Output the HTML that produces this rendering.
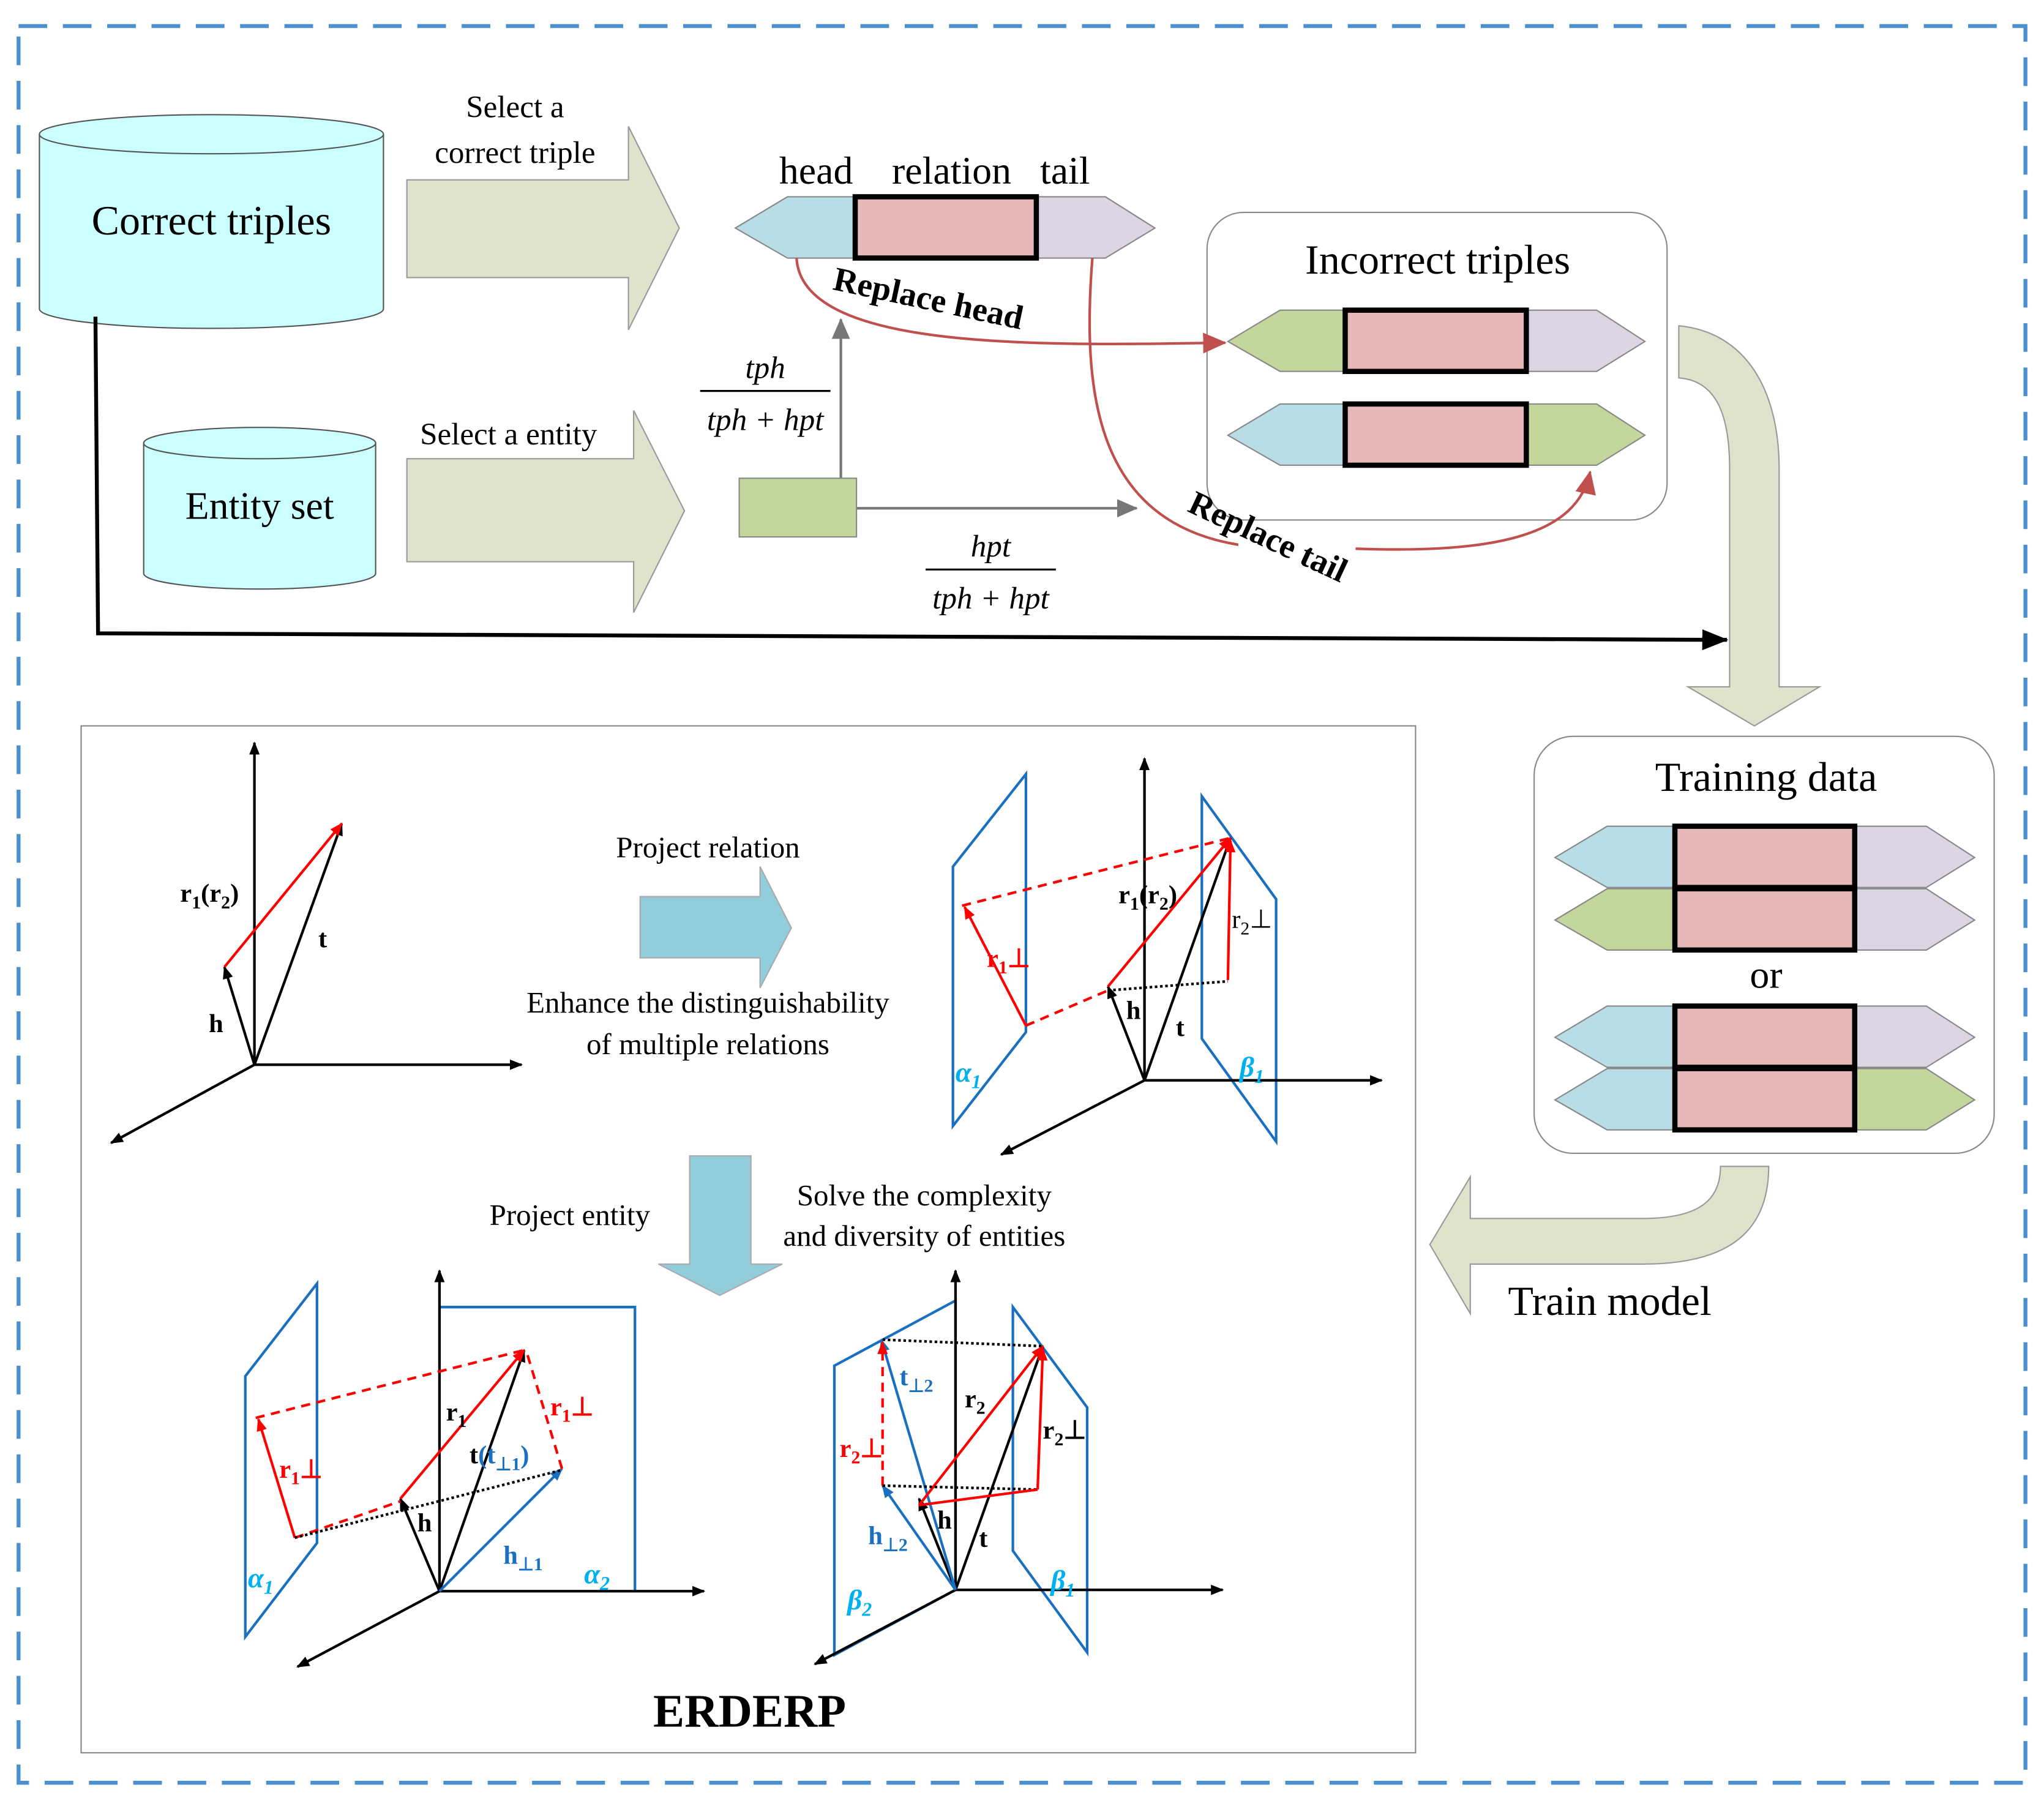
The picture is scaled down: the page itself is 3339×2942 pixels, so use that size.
<!DOCTYPE html>
<html><head><meta charset="utf-8"><style>
html,body{margin:0;padding:0;background:#fff}
svg{display:block}
text{font-family:"Liberation Serif",serif}
</style></head><body>
<svg width="3339" height="2942" viewBox="0 0 1568 1382" xmlns="http://www.w3.org/2000/svg">
<defs>
<marker id="ak" markerWidth="10" markerHeight="10" refX="9" refY="5" orient="auto" markerUnits="userSpaceOnUse"><path d="M0,1 L10,5 L0,9 z" fill="#000"/></marker>
<marker id="ar" markerWidth="10" markerHeight="10" refX="9" refY="5" orient="auto" markerUnits="userSpaceOnUse"><path d="M0,1 L10,5 L0,9 z" fill="#f00"/></marker>
<marker id="ab" markerWidth="10" markerHeight="10" refX="9" refY="5" orient="auto" markerUnits="userSpaceOnUse"><path d="M0,1 L10,5 L0,9 z" fill="#1a70c0"/></marker>
<marker id="ag" markerWidth="16" markerHeight="14" refX="15" refY="7" orient="auto" markerUnits="userSpaceOnUse"><path d="M0,0 L16,7 L0,14 z" fill="#777"/></marker>
<marker id="abig" markerWidth="20" markerHeight="16" refX="19" refY="8" orient="auto" markerUnits="userSpaceOnUse"><path d="M0,0 L20,8 L0,16 z" fill="#000"/></marker>
<marker id="abr" markerWidth="18" markerHeight="16" refX="17" refY="8" orient="auto" markerUnits="userSpaceOnUse"><path d="M0,0 L18,8 L0,16 z" fill="#c0504d"/></marker>
</defs>
<rect x="14" y="20" width="1540" height="1348" fill="none" stroke="#4a90d0" stroke-width="3" stroke-dasharray="22,12"/>

<!-- Correct triples cylinder -->
<path d="M30,103 L30,237 A132,15 0 0 0 294,237 L294,103" fill="#ccffff" stroke="#555" stroke-width="1"/>
<ellipse cx="162" cy="103" rx="132" ry="15" fill="#ccffff" stroke="#555"/>
<text x="162" y="180" font-size="32" text-anchor="middle">Correct triples</text>
<!-- Entity set -->
<path d="M110,340 L110,440 A89,12 0 0 0 288,440 L288,340" fill="#ccffff" stroke="#555"/>
<ellipse cx="199" cy="340" rx="89" ry="12" fill="#ccffff" stroke="#555"/>
<text x="199" y="398" font-size="30" text-anchor="middle">Entity set</text>

<!-- big arrows -->
<path d="M312,138 L482,138 L482,97 L521,175 L482,253 L482,213 L312,213 Z" fill="#dfe3cc" stroke="#999"/>
<path d="M312,352 L486,352 L486,315 L525,392 L486,470 L486,431 L312,431 Z" fill="#dfe3cc" stroke="#999"/>
<text x="395" y="90" font-size="24" text-anchor="middle">Select a</text>
<text x="395" y="125" font-size="24" text-anchor="middle">correct triple</text>
<text x="390" y="341" font-size="24" text-anchor="middle">Select a entity</text>

<!-- top triple -->
<text x="626" y="141" font-size="30" text-anchor="middle">head</text>
<text x="730" y="141" font-size="30" text-anchor="middle">relation</text>
<text x="817" y="141" font-size="30" text-anchor="middle">tail</text>
<path d="M564,175 L604,151 L656,151 L656,198 L604,198 Z" fill="#b8dde6" stroke="#888"/>
<path d="M795,151 L848,151 L886,175 L848,198 L795,198 Z" fill="#dcd6e4" stroke="#888"/>
<rect x="656" y="151" width="139" height="47" fill="#e6b8b7" stroke="#000" stroke-width="4"/>

<!-- Incorrect triples -->
<rect x="926" y="163" width="353" height="236" rx="28" fill="#fff" stroke="#888"/>
<text x="1103" y="210" font-size="32" text-anchor="middle">Incorrect triples</text>
<path d="M942,262 L982,238 L1032,238 L1032,285 L982,285 Z" fill="#c3d69b" stroke="#888"/>
<path d="M1171,238 L1225,238 L1262,262 L1225,285 L1171,285 Z" fill="#dcd6e4" stroke="#888"/>
<rect x="1032" y="238" width="139" height="47" fill="#e6b8b7" stroke="#000" stroke-width="4"/>
<path d="M942,334 L982,310 L1032,310 L1032,357 L982,357 Z" fill="#b8dde6" stroke="#888"/>
<path d="M1171,310 L1225,310 L1262,334 L1225,357 L1171,357 Z" fill="#c3d69b" stroke="#888"/>
<rect x="1032" y="310" width="139" height="47" fill="#e6b8b7" stroke="#000" stroke-width="4"/>

<!-- entity rect + gray arrows -->
<line x1="645" y1="367" x2="645" y2="245" stroke="#777" stroke-width="2" marker-end="url(#ag)"/>
<line x1="657" y1="390" x2="872" y2="390" stroke="#777" stroke-width="2" marker-end="url(#ag)"/>
<rect x="567" y="367" width="90" height="45" fill="#c3d69b" stroke="#888"/>
<text x="587" y="290" font-size="24" font-style="italic" text-anchor="middle">tph</text>
<line x1="537" y1="300" x2="637" y2="300" stroke="#000" stroke-width="1.5"/>
<text x="587" y="330" font-size="24" font-style="italic" text-anchor="middle">tph + hpt</text>
<text x="760" y="427" font-size="24" font-style="italic" text-anchor="middle">hpt</text>
<line x1="710" y1="437" x2="810" y2="437" stroke="#000" stroke-width="1.5"/>
<text x="760" y="467" font-size="24" font-style="italic" text-anchor="middle">tph + hpt</text>

<!-- red curves -->
<path d="M611,198 C615,270 800,265 940,263" fill="none" stroke="#c0504d" stroke-width="2" marker-end="url(#abr)"/>
<text x="638" y="222" font-size="26" font-weight="bold" transform="rotate(12 638 222)">Replace head</text>
<path d="M838,198 C830,300 840,400 950,418" fill="none" stroke="#c0504d" stroke-width="2"/>
<path d="M1040,421 C1150,425 1210,410 1220,362" fill="none" stroke="#c0504d" stroke-width="2" marker-end="url(#abr)"/>
<text x="910" y="392" font-size="26" font-weight="bold" transform="rotate(25 910 392)">Replace tail</text>

<!-- black long line -->
<polyline points="73,243 75,486 1325,491" fill="none" stroke="#000" stroke-width="3" marker-end="url(#abig)"/>

<!-- curved down arrow -->
<path d="M1288,250 C1340,255 1365,300 1365,360 L1365,527 L1396,527 L1346,557 L1295,527 L1327,527 L1327,360 C1327,315 1315,292 1288,290 Z" fill="#dfe3cc" stroke="#999"/>

<!-- Training data -->
<rect x="1177" y="565" width="353" height="320" rx="30" fill="#fff" stroke="#888"/>
<text x="1355" y="607" font-size="32" text-anchor="middle">Training data</text>
<g>
<path d="M1193,658 L1233,634 L1285,634 L1285,681 L1233,681 Z" fill="#b8dde6" stroke="#888"/>
<path d="M1423,634 L1478,634 L1515,658 L1478,681 L1423,681 Z" fill="#dcd6e4" stroke="#888"/>
<rect x="1285" y="634" width="138" height="47" fill="#e6b8b7" stroke="#000" stroke-width="4"/>
<path d="M1193,706 L1233,682 L1285,682 L1285,729 L1233,729 Z" fill="#c3d69b" stroke="#888"/>
<path d="M1423,682 L1478,682 L1515,706 L1478,729 L1423,729 Z" fill="#dcd6e4" stroke="#888"/>
<rect x="1285" y="682" width="138" height="47" fill="#e6b8b7" stroke="#000" stroke-width="4"/>
<text x="1355" y="758" font-size="30" text-anchor="middle" font-family="Liberation Sans">or</text>
<path d="M1193,796 L1233,772 L1285,772 L1285,819 L1233,819 Z" fill="#b8dde6" stroke="#888"/>
<path d="M1423,772 L1478,772 L1515,796 L1478,819 L1423,819 Z" fill="#dcd6e4" stroke="#888"/>
<rect x="1285" y="772" width="138" height="47" fill="#e6b8b7" stroke="#000" stroke-width="4"/>
<path d="M1193,844 L1233,820 L1285,820 L1285,867 L1233,867 Z" fill="#b8dde6" stroke="#888"/>
<path d="M1423,820 L1478,820 L1515,844 L1478,867 L1423,867 Z" fill="#c3d69b" stroke="#888"/>
<rect x="1285" y="820" width="138" height="47" fill="#e6b8b7" stroke="#000" stroke-width="4"/>
</g>

<!-- Train model arrow -->
<path d="M1357,895 C1357,950 1320,970 1260,970 L1128,970 L1128,1008 L1097,955 L1128,903 L1128,935 L1260,935 C1305,935 1320,920 1320,895 Z" fill="#dfe3cc" stroke="#999"/>
<text x="1235" y="1009" font-size="32" text-anchor="middle">Train model</text>

<!-- lower box -->
<rect x="62" y="557" width="1024" height="788" fill="#fff" stroke="#888"/>

<!-- diagram 1 -->
<g stroke-width="2">
<line x1="195" y1="817" x2="195" y2="570" stroke="#000" marker-end="url(#ak)"/>
<line x1="195" y1="817" x2="400" y2="817" stroke="#000" marker-end="url(#ak)"/>
<line x1="195" y1="817" x2="85" y2="877" stroke="#000" marker-end="url(#ak)"/>
<line x1="195" y1="817" x2="172" y2="742" stroke="#000" marker-end="url(#ak)"/>
<line x1="195" y1="817" x2="262" y2="632" stroke="#000" marker-end="url(#ak)"/>
<line x1="172" y1="742" x2="262" y2="632" stroke="#f00" marker-end="url(#ar)"/>
</g>
<text x="138" y="692" font-size="20" font-weight="bold">r<tspan font-size="14" dy="5">1</tspan><tspan dy="-5">(r</tspan><tspan font-size="14" dy="5">2</tspan><tspan dy="-5">)</tspan></text>
<text x="244" y="727" font-size="20" font-weight="bold">t</text>
<text x="160" y="792" font-size="20" font-weight="bold">h</text>

<!-- project relation arrow -->
<path d="M491,688 L583,688 L583,665 L607,712 L583,758 L583,735 L491,735 Z" fill="#92cddc" stroke="#aaa"/>
<text x="543" y="658" font-size="23" text-anchor="middle">Project relation</text>
<text x="543" y="777" font-size="23" text-anchor="middle">Enhance the distinguishability</text>
<text x="543" y="809" font-size="23" text-anchor="middle">of multiple relations</text>

<!-- diagram 2 -->
<g stroke-width="2" fill="none">
<path d="M731,665 L787,594 L787,792 L731,864 Z" stroke="#1a70c0"/>
<path d="M922,611 L979,690 L979,876 L922,797 Z" stroke="#1a70c0"/>
<line x1="878" y1="829" x2="878" y2="582" stroke="#000" marker-end="url(#ak)"/>
<line x1="878" y1="829" x2="1060" y2="829" stroke="#000" marker-end="url(#ak)"/>
<line x1="878" y1="829" x2="768" y2="886" stroke="#000" marker-end="url(#ak)"/>
<line x1="878" y1="829" x2="850" y2="757" stroke="#000" marker-end="url(#ak)"/>
<line x1="878" y1="829" x2="944" y2="643" stroke="#000" marker-end="url(#ak)"/>
<line x1="850" y1="757" x2="944" y2="643" stroke="#f00" marker-end="url(#ar)"/>
<line x1="738" y1="695" x2="944" y2="643" stroke="#f00" stroke-dasharray="7,5"/>
<line x1="787" y1="787" x2="850" y2="760" stroke="#f00" stroke-dasharray="7,5"/>
<line x1="787" y1="787" x2="740" y2="696" stroke="#f00" marker-end="url(#ar)"/>
<line x1="942" y1="752" x2="944" y2="645" stroke="#f00" marker-end="url(#ar)"/>
<line x1="850" y1="760" x2="942" y2="753" stroke="#000" stroke-dasharray="2,2"/>
</g>
<text x="858" y="693" font-size="20" font-weight="bold">r<tspan font-size="14" dy="5">1</tspan><tspan dy="-5">(r</tspan><tspan font-size="14" dy="5">2</tspan><tspan dy="-5">)</tspan></text>
<text x="757" y="742" font-size="20" font-weight="bold" fill="#f00">r<tspan font-size="14" dy="5">1</tspan><tspan dy="-5">⊥</tspan></text>
<text x="945" y="712" font-size="20" fill="#000">r<tspan font-size="14" dy="5">2</tspan><tspan dy="-5">⊥</tspan></text>
<text x="864" y="782" font-size="20" font-weight="bold">h</text>
<text x="902" y="795" font-size="20" font-weight="bold">t</text>
<text x="733" y="830" font-size="22" font-weight="bold" font-style="italic" fill="#00b0f0">α<tspan font-size="15" dy="5">1</tspan></text>
<text x="951" y="826" font-size="22" font-weight="bold" font-style="italic" fill="#00b0f0">β<tspan font-size="15" dy="5">1</tspan></text>

<!-- project entity arrow -->
<path d="M529,887 L576,887 L576,970 L600,970 L552,994 L505,970 L529,970 Z" fill="#92cddc" stroke="#aaa"/>
<text x="437" y="940" font-size="23" text-anchor="middle">Project entity</text>
<text x="709" y="925" font-size="23" text-anchor="middle">Solve the complexity</text>
<text x="709" y="956" font-size="23" text-anchor="middle">and diversity of entities</text>

<!-- diagram 3 -->
<g stroke-width="2" fill="none">
<path d="M188,1056 L243,985 L243,1184 L188,1256 Z" stroke="#1a70c0"/>
<path d="M337,1003 L487,1003 L487,1221" stroke="#1a70c0"/>
<line x1="337" y1="1221" x2="337" y2="975" stroke="#000" marker-end="url(#ak)"/>
<line x1="337" y1="1221" x2="540" y2="1221" stroke="#000" marker-end="url(#ak)"/>
<line x1="337" y1="1221" x2="228" y2="1279" stroke="#000" marker-end="url(#ak)"/>
<line x1="337" y1="1221" x2="307" y2="1150" stroke="#000" marker-end="url(#ak)"/>
<line x1="337" y1="1221" x2="402" y2="1036" stroke="#000" marker-end="url(#ak)"/>
<line x1="337" y1="1221" x2="431" y2="1127" stroke="#1a70c0" marker-end="url(#ab)"/>
<line x1="307" y1="1150" x2="402" y2="1036" stroke="#f00" marker-end="url(#ar)"/>
<line x1="196" y1="1088" x2="402" y2="1036" stroke="#f00" stroke-dasharray="7,5"/>
<line x1="226" y1="1180" x2="307" y2="1152" stroke="#f00" stroke-dasharray="7,5"/>
<line x1="226" y1="1180" x2="198" y2="1089" stroke="#f00" marker-end="url(#ar)"/>
<line x1="431" y1="1127" x2="404" y2="1038" stroke="#f00" stroke-dasharray="7,5"/>
<line x1="226" y1="1180" x2="431" y2="1128" stroke="#000" stroke-dasharray="2,2"/>
</g>
<text x="342" y="1090" font-size="20" font-weight="bold">r<tspan font-size="14" dy="5">1</tspan></text>
<text x="422" y="1086" font-size="20" font-weight="bold" fill="#f00">r<tspan font-size="14" dy="5">1</tspan><tspan dy="-5">⊥</tspan></text>
<text x="214" y="1134" font-size="20" font-weight="bold" fill="#f00">r<tspan font-size="14" dy="5">1</tspan><tspan dy="-5">⊥</tspan></text>
<text x="360" y="1123" font-size="20" font-weight="bold">t<tspan fill="#1a70c0">(t<tspan font-size="14" dy="5">⊥1</tspan><tspan dy="-5">)</tspan></tspan></text>
<text x="320" y="1175" font-size="20" font-weight="bold">h</text>
<text x="386" y="1200" font-size="20" font-weight="bold" fill="#1a70c0">h<tspan font-size="14" dy="5">⊥1</tspan></text>
<text x="190" y="1218" font-size="22" font-weight="bold" font-style="italic" fill="#00b0f0">α<tspan font-size="15" dy="5">1</tspan></text>
<text x="448" y="1215" font-size="22" font-weight="bold" font-style="italic" fill="#00b0f0">α<tspan font-size="15" dy="5">2</tspan></text>

<!-- diagram 4 -->
<g stroke-width="2" fill="none">
<path d="M640,1048 L733,998 L733,1220 L640,1270 Z" stroke="#1a70c0"/>
<path d="M777,1003 L834,1080 L834,1268 L777,1190 Z" stroke="#1a70c0"/>
<line x1="733" y1="1220" x2="733" y2="975" stroke="#000" marker-end="url(#ak)"/>
<line x1="733" y1="1220" x2="938" y2="1220" stroke="#000" marker-end="url(#ak)"/>
<line x1="733" y1="1220" x2="625" y2="1277" stroke="#000" marker-end="url(#ak)"/>
<line x1="733" y1="1220" x2="705" y2="1150" stroke="#000" marker-end="url(#ak)"/>
<line x1="733" y1="1220" x2="800" y2="1033" stroke="#000" marker-end="url(#ak)"/>
<line x1="733" y1="1220" x2="677" y2="1140" stroke="#1a70c0" marker-end="url(#ab)"/>
<line x1="733" y1="1220" x2="676" y2="1028" stroke="#1a70c0" marker-end="url(#ab)"/>
<line x1="705" y1="1155" x2="800" y2="1033" stroke="#f00" marker-end="url(#ar)"/>
<line x1="677" y1="1140" x2="677" y2="1030" stroke="#f00" stroke-dasharray="7,5" marker-end="url(#ar)"/>
<line x1="796" y1="1143" x2="800" y2="1035" stroke="#f00" marker-end="url(#ar)"/>
<line x1="677" y1="1028" x2="800" y2="1033" stroke="#000" stroke-dasharray="2,2"/>
<line x1="677" y1="1140" x2="796" y2="1143" stroke="#000" stroke-dasharray="2,2"/>
<line x1="705" y1="1155" x2="796" y2="1143" stroke="#f00"/>
</g>
<text x="690" y="1063" font-size="20" font-weight="bold" fill="#1a70c0">t<tspan font-size="14" dy="5">⊥2</tspan></text>
<text x="740" y="1080" font-size="20" font-weight="bold">r<tspan font-size="14" dy="5">2</tspan></text>
<text x="800" y="1104" font-size="20" font-weight="bold">r<tspan font-size="14" dy="5">2</tspan><tspan dy="-5">⊥</tspan></text>
<text x="644" y="1118" font-size="20" font-weight="bold" fill="#f00">r<tspan font-size="14" dy="5">2</tspan><tspan dy="-5">⊥</tspan></text>
<text x="666" y="1185" font-size="20" font-weight="bold" fill="#1a70c0">h<tspan font-size="14" dy="5">⊥2</tspan></text>
<text x="719" y="1173" font-size="20" font-weight="bold">h</text>
<text x="751" y="1187" font-size="20" font-weight="bold">t</text>
<text x="650" y="1235" font-size="22" font-weight="bold" font-style="italic" fill="#00b0f0">β<tspan font-size="15" dy="5">2</tspan></text>
<text x="806" y="1220" font-size="22" font-weight="bold" font-style="italic" fill="#00b0f0">β<tspan font-size="15" dy="5">1</tspan></text>

<text x="575" y="1325" font-size="36" font-weight="bold" text-anchor="middle">ERDERP</text>
</svg>
</body></html>
